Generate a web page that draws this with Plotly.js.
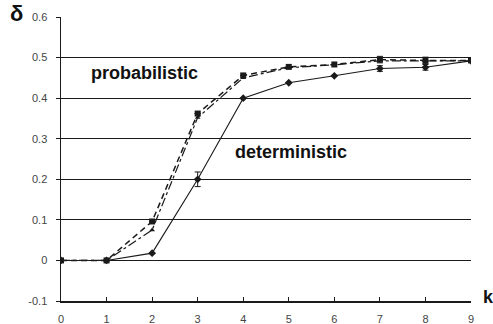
<!DOCTYPE html>
<html>
<head>
<meta charset="utf-8">
<script src="https://cdn.plot.ly/plotly-3.0.1.min.js"></script>
<style>
html,body{margin:0;padding:0;background:#fff;}
#chart{width:493px;height:324px;}
</style>
</head>
<body>
<div id="chart"></div>
<script>
const k = [0, 1, 2, 3, 4, 5, 6, 7, 8, 9];
const deterministic = [0, 0, 0.018, 0.200, 0.400, 0.438, 0.455, 0.473, 0.476, 0.492];
const deterministicErr = [0, 0, 0, 0.018, 0, 0, 0, 0.007, 0.007, 0];
const probabilisticA = [0, 0, 0.096, 0.362, 0.456, 0.477, 0.483, 0.495, 0.493, 0.493];
const probabilisticAErr = [0, 0, 0, 0, 0, 0, 0, 0.008, 0.008, 0];
const probabilisticB = [0, 0, 0.075, 0.352, 0.450, 0.475, 0.482, 0.492, 0.492, 0.492];
const yTickVals = [-0.1, 0, 0.1, 0.2, 0.3, 0.4, 0.5, 0.6];
const yTickText = ['-0.1', '0', '0.1', '0.2', '0.3', '0.4', '0.5', '0.6'];
const gridVals = [0, 0.1, 0.2, 0.3, 0.4, 0.5];
const xTickText = ['0', '1', '2', '3', '4', '5', '6', '7', '8', '9'];

const ink = '#1a1a1a';

const traces = [
  {
    x: k, y: probabilisticB, mode: 'lines+markers', yaxis: 'y2',
    line: {color: ink, width: 1.2, dash: 'dashdot'},
    marker: {symbol: 'triangle-up', size: 5, color: ink},
    hoverinfo: 'skip'
  },
  {
    x: k, y: probabilisticA, mode: 'lines+markers', yaxis: 'y2',
    line: {color: ink, width: 1.5, dash: '6px,4px'},
    marker: {symbol: 'square', size: 6, color: ink},
    error_y: {type: 'data', array: probabilisticAErr, color: ink, thickness: 1, width: 3},
    hoverinfo: 'skip'
  },
  {
    x: k, y: deterministic, mode: 'lines+markers', yaxis: 'y',
    line: {color: ink, width: 1.1},
    marker: {symbol: 'diamond', size: 6, color: ink},
    error_y: {type: 'data', array: deterministicErr, color: ink, thickness: 1, width: 3},
    hoverinfo: 'skip'
  }
];

const tickFont = {family: 'Liberation Sans, Arial, sans-serif', size: 11, color: '#444'};
const labelFont = {family: 'Liberation Sans, Arial, sans-serif', size: 18, color: '#111', weight: 'bold'};

const layout = {
  width: 493, height: 324,
  margin: {l: 61, r: 22, t: 17, b: 23},
  paper_bgcolor: '#fff', plot_bgcolor: '#fff',
  showlegend: false,
  xaxis: {
    range: [0, 9], tickvals: k, ticktext: xTickText,
    ticks: 'inside', ticklen: 4, tickcolor: ink, tickwidth: 1,
    showline: true, linecolor: ink, linewidth: 1.5,
    showgrid: false, zeroline: false,
    tickfont: tickFont, ticklabelstandoff: 7
  },
  yaxis: {
    range: [-0.1, 0.6], tickvals: yTickVals, ticktext: yTickText,
    ticks: 'outside', ticklen: 4, tickcolor: ink, tickwidth: 1,
    showline: true, linecolor: ink, linewidth: 1.5,
    showgrid: false, zeroline: false,
    tickfont: tickFont, ticklabelstandoff: 6
  },
  yaxis2: {
    range: [-0.1, 0.6], overlaying: 'y', side: 'left',
    tickvals: gridVals, showticklabels: false, ticks: '',
    showline: false, showgrid: true, gridcolor: ink, gridwidth: 1,
    zeroline: false
  },
  annotations: [
    {text: 'probabilistic', xref: 'paper', yref: 'paper', x: (144 - 61) / 410, y: (307 - 79) / 284,
     xanchor: 'center', yanchor: 'middle', showarrow: false, font: labelFont},
    {text: 'deterministic', xref: 'paper', yref: 'paper', x: (291 - 61) / 410, y: (307 - 158) / 284,
     xanchor: 'center', yanchor: 'middle', showarrow: false, font: labelFont},
    {text: 'δ', xref: 'paper', yref: 'paper', x: (16 - 61) / 410, y: (307 - 19) / 284,
     xanchor: 'center', yanchor: 'middle', showarrow: false,
     font: {family: 'Liberation Sans, Arial, sans-serif', size: 22, color: '#111', weight: 'bold'}},
    {text: 'k', xref: 'paper', yref: 'paper', x: (488 - 61) / 410, y: (307 - 303) / 284,
     xanchor: 'center', yanchor: 'middle', showarrow: false,
     font: {family: 'Liberation Sans, Arial, sans-serif', size: 18, color: '#111', weight: 'bold'}}
  ]
};

Plotly.newPlot('chart', traces, layout, {displayModeBar: false, staticPlot: true});
</script>
</body>
</html>
